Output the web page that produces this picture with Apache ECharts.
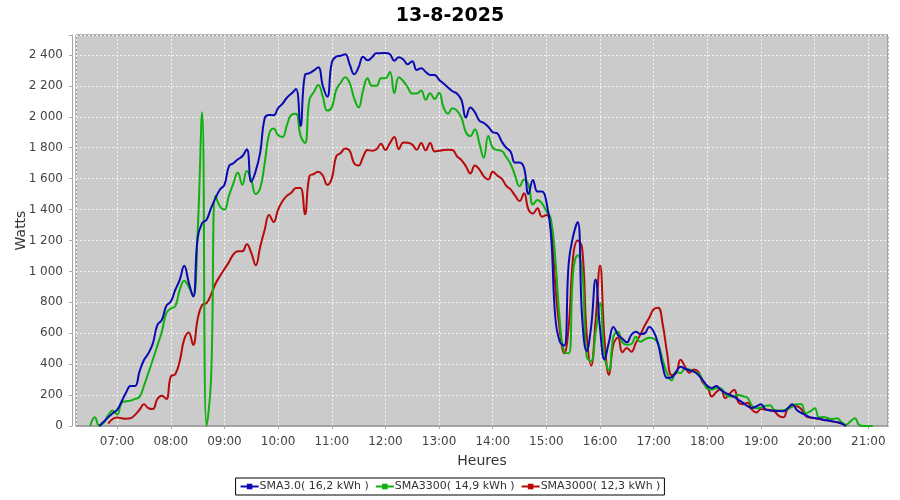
<!DOCTYPE html>
<html><head><meta charset="utf-8">
<script src="https://cdn.jsdelivr.net/npm/echarts@6/dist/echarts.min.js"></script>
<style>html,body{margin:0;padding:0;background:#fff}#c{width:900px;height:500px}</style>
</head><body><div id="c"></div>
<script>
const chartTitle = '13-8-2025';
const seriesNames = ['SMA3.0( 16,2 kWh )', 'SMA3300( 14,9 kWh )', 'SMA3000( 12,3 kWh )'];
const seriesColors = ['#0a0ab4', '#10b010', '#b80a0a'];
const times = [
 '06:30','06:35','06:40','06:45','06:50','06:55',
 '07:00','07:05','07:10','07:15','07:20','07:25','07:30','07:35','07:40','07:45','07:50','07:55',
 '08:00','08:05','08:10','08:15','08:20','08:25','08:30','08:35','08:40','08:45','08:50','08:55',
 '09:00','09:05','09:10','09:15','09:20','09:25','09:30','09:35','09:40','09:45','09:50','09:55',
 '10:00','10:05','10:10','10:15','10:20','10:25','10:30','10:35','10:40','10:45','10:50','10:55',
 '11:00','11:05','11:10','11:15','11:20','11:25','11:30','11:35','11:40','11:45','11:50','11:55',
 '12:00','12:05','12:10','12:15','12:20','12:25','12:30','12:35','12:40','12:45','12:50','12:55',
 '13:00','13:05','13:10','13:15','13:20','13:25','13:30','13:35','13:40','13:45','13:50','13:55',
 '14:00','14:05','14:10','14:15','14:20','14:25','14:30','14:35','14:40','14:45','14:50','14:55',
 '15:00','15:05','15:10','15:15','15:20','15:25','15:30','15:35','15:40','15:45','15:50','15:55',
 '16:00','16:05','16:10','16:15','16:20','16:25','16:30','16:35','16:40','16:45','16:50','16:55',
 '17:00','17:05','17:10','17:15','17:20','17:25','17:30','17:35','17:40','17:45','17:50','17:55',
 '18:00','18:05','18:10','18:15','18:20','18:25','18:30','18:35','18:40','18:45','18:50','18:55',
 '19:00','19:05','19:10','19:15','19:20','19:25','19:30','19:35','19:40','19:45','19:50','19:55',
 '20:00','20:05','20:10','20:15','20:20','20:25','20:30','20:35','20:40','20:45','20:50','20:55',
 '21:00','21:05'
];
const sma30 = [
 null,null,0,28,56,82,
 104,158,216,259,259,352,427,470,535,654,686,777,
 805,880,945,1036,930,837,1215,1312,1334,1409,1474,1530,
 1560,1680,1700,1725,1745,1790,1580,1650,1770,1990,2012,2010,
 2056,2085,2125,2150,2180,1940,2271,2282,2300,2320,2200,2130,
 2350,2389,2395,2405,2340,2275,2320,2389,2365,2385,2411,2411,
 2413,2405,2363,2385,2370,2340,2360,2303,2314,2290,2271,2270,
 2240,2215,2190,2165,2150,2110,1995,2060,2030,1975,1960,1936,
 1900,1893,1840,1800,1774,1703,1705,1670,1500,1591,1516,1516,
 1450,1250,700,545,520,1055,1230,1320,700,485,640,947,
 630,430,545,641,590,565,541,590,610,595,600,640,
 610,530,390,311,315,350,384,370,360,352,330,295,
 260,245,258,233,215,202,188,168,150,128,116,128,
 140,108,100,98,97,96,115,140,104,85,71,56,
 52,48,39,35,30,25,17,0,null,null,null,null,
 null,null
];
const sma3300 = [
 0,56,3,20,70,100,
 75,150,160,164,175,188,260,345,430,520,610,730,
 760,775,880,940,900,840,1250,2030,0,300,1490,1420,
 1400,1490,1570,1640,1560,1650,1590,1500,1540,1700,1890,1925,
 1880,1870,1950,2013,2020,1880,1830,2110,2160,2206,2130,2040,
 2060,2174,2220,2255,2220,2120,2060,2170,2249,2200,2200,2249,
 2250,2290,2153,2255,2230,2190,2150,2150,2170,2110,2153,2115,
 2155,2060,2020,2056,2040,1995,1900,1875,1920,1830,1735,1875,
 1800,1785,1780,1740,1695,1620,1550,1595,1560,1432,1462,1440,
 1390,1340,1080,680,480,470,1000,1105,1012,450,420,600,
 796,451,360,580,610,540,526,530,578,545,560,570,
 565,530,430,340,295,350,343,370,365,350,341,295,
 240,235,245,244,205,190,192,200,192,182,130,115,
 120,130,135,104,100,102,110,125,140,140,82,95,
 114,55,58,50,45,50,25,8,30,50,5,0,
 0,0
];
const sma3000 = [
 null,null,null,null,15,45,
 55,50,47,50,72,105,140,115,110,175,195,175,
 320,335,420,560,605,525,690,783,795,850,920,970,
 1015,1060,1110,1130,1130,1175,1120,1040,1160,1270,1365,1320,
 1400,1455,1490,1510,1540,1540,1370,1615,1630,1645,1620,1560,
 1600,1744,1765,1795,1780,1700,1685,1740,1785,1780,1790,1825,
 1785,1830,1870,1790,1834,1832,1820,1787,1830,1783,1830,1776,
 1780,1785,1787,1785,1745,1720,1680,1634,1685,1660,1615,1595,
 1645,1620,1600,1555,1530,1490,1455,1505,1400,1375,1408,1354,
 1365,1300,904,620,470,650,1100,1200,1150,600,390,680,
 1038,560,330,530,570,477,505,480,537,590,650,700,
 755,765,660,473,330,340,429,385,345,365,350,280,
 255,190,220,240,180,210,235,150,140,150,104,88,
 110,105,104,95,65,56,115,130,128,110,65,55,
 50,45,40,36,30,24,15,0,null,null,null,null,
 null,null
];
const xRange = ['06:14', '21:22'];
const yTickStep = 200;
const yMax = 2529;

function ts(hm) { const p = hm.split(':'); return Date.UTC(2025, 7, 13, +p[0], +p[1]); }
function pairs(vals) { return times.map((t, i) => [ts(t), vals[i]]); }
function fmtNum(v) { return String(v).replace(/\B(?=(\d{3})+(?!\d))/g, ' '); }

const FONT = 'DejaVu Sans';
const chart = echarts.init(document.getElementById('c'), null, {renderer: 'canvas'});
const allVals = [sma30, sma3300, sma3000];
const order = [2, 1, 0]; // draw red first, blue on top
chart.setOption({
  useUTC: true,
  animation: false,
  backgroundColor: '#ffffff',
  title: {
    text: chartTitle, left: 'center', top: 2,
    textStyle: {fontFamily: FONT, fontSize: 19, fontWeight: 'bold', color: '#000'}
  },
  legend: {
    data: seriesNames, top: 478, left: 'center',
    padding: [3, 4, 3, 4], itemGap: 6, itemWidth: 18, itemHeight: 7,
    borderColor: '#000', borderWidth: 1, backgroundColor: '#fff', borderRadius: 0,
    textStyle: {fontFamily: FONT, fontSize: 11, color: '#333', padding: [0, 0, 0, -4]}
  },
  grid: {
    left: 76, right: 12, top: 35, bottom: 74, show: true,
    backgroundColor: '#cbcbcb', borderColor: '#777', borderWidth: 1
  },
  xAxis: {
    type: 'time', min: ts(xRange[0]), max: ts(xRange[1]),
    minInterval: 3600000, maxInterval: 3600000, offset: 4,
    axisLine: {show: true, lineStyle: {color: '#a8a8a8'}},
    axisTick: {show: true, length: 3, lineStyle: {color: '#a8a8a8'}},
    axisLabel: {formatter: '{HH}:{mm}', color: '#444', fontFamily: FONT, fontSize: 12, margin: 6,
                showMinLabel: false, showMaxLabel: false},
    splitLine: {show: true, lineStyle: {color: '#f4f4f4', type: [2, 2], width: 1}},
    name: 'Heures', nameLocation: 'middle', nameGap: 24, nameMoveOverlap: false,
    nameTextStyle: {fontFamily: FONT, fontSize: 14, color: '#333'}
  },
  yAxis: {
    type: 'value', min: 0, max: yMax, interval: yTickStep, offset: 4,
    axisLine: {show: true, lineStyle: {color: '#a8a8a8'}},
    axisTick: {show: true, length: 3, lineStyle: {color: '#a8a8a8'}},
    axisLabel: {formatter: v => (v % yTickStep === 0 ? fmtNum(v) : ''), color: '#444',
                fontFamily: FONT, fontSize: 12, margin: 9},
    splitLine: {show: true, lineStyle: {color: '#f4f4f4', type: [2, 2], width: 1}},
    name: 'Watts', nameLocation: 'middle', nameGap: 44, nameRotate: 90, nameMoveOverlap: false,
    nameTextStyle: {fontFamily: FONT, fontSize: 14, color: '#333'}
  },
  series: order.map(i => ({
    name: seriesNames[i], type: 'line', data: pairs(allVals[i]),
    smooth: 0.45, showSymbol: false, symbol: 'rect', symbolSize: 3,
    lineStyle: {width: 2, color: seriesColors[i]}, itemStyle: {color: seriesColors[i]},
    connectNulls: false
  }))
});
</script></body></html>
